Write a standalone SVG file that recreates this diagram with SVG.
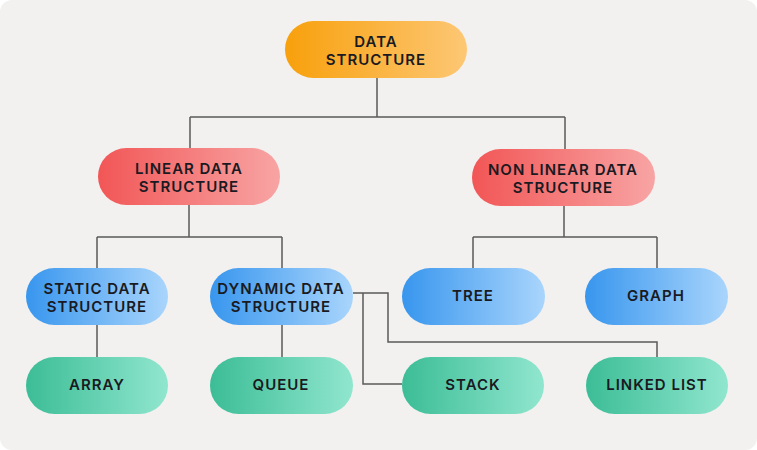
<svg xmlns="http://www.w3.org/2000/svg" width="757" height="450" viewBox="0 0 757 450">
<defs>
<linearGradient id="gO" x1="0" y1="0" x2="1" y2="0"><stop offset="0" stop-color="#f8a00c"/><stop offset="1" stop-color="#fdc774"/></linearGradient>
<linearGradient id="gR" x1="0" y1="0" x2="1" y2="0"><stop offset="0" stop-color="#f25656"/><stop offset="1" stop-color="#f8a4a4"/></linearGradient>
<linearGradient id="gB" x1="0" y1="0" x2="1" y2="0"><stop offset="0" stop-color="#3896ee"/><stop offset="1" stop-color="#a9d5fc"/></linearGradient>
<linearGradient id="gG" x1="0" y1="0" x2="1" y2="0"><stop offset="0" stop-color="#3cbd96"/><stop offset="1" stop-color="#90e6ce"/></linearGradient>
<style>
.t{font-family:Inter,"Liberation Sans",sans-serif;font-weight:600;font-size:15px;fill:#1a1a22;text-anchor:middle;letter-spacing:1px}
.c{fill:none;stroke:#5a5a5a;stroke-width:1.5}
</style>
</defs>
<rect x="0" y="0" width="757" height="450" fill="#ffffff"/>
<rect x="0" y="0" width="757" height="450" rx="12" fill="#f2f1ef"/>
<g id="connectors">
<path class="c" d="M377 78V117M190 117H565M190 117V148M565 117V149"/>
<path class="c" d="M189 205V237M97 237H282M97 237V268M282 237V268"/>
<path class="c" d="M564 206V237M473 237H657M473 237V268M657 237V268"/>
<path class="c" d="M97 325V357M282 325V357"/>
<path class="c" d="M353 293H388V342H657V357M363 293V384H402"/>
</g>
<g id="data-structure"><rect x="285" y="21" width="182" height="57" rx="28.5" fill="url(#gO)"/><text class="t" x="376" y="47">DATA</text><text class="t" x="376" y="65">STRUCTURE</text></g>
<g id="linear"><rect x="98" y="148" width="182" height="57" rx="28.5" fill="url(#gR)"/><text class="t" x="189" y="174">LINEAR DATA</text><text class="t" x="189" y="192">STRUCTURE</text></g>
<g id="nonlinear"><rect x="472" y="149" width="183" height="57" rx="28.5" fill="url(#gR)"/><text class="t" x="563" y="175">NON LINEAR DATA</text><text class="t" x="563" y="193">STRUCTURE</text></g>
<g id="static"><rect x="26" y="268" width="142" height="57" rx="28.5" fill="url(#gB)"/><text class="t" x="97" y="294">STATIC DATA</text><text class="t" x="97" y="312">STRUCTURE</text></g>
<g id="dynamic"><rect x="210" y="268" width="143" height="57" rx="28.5" fill="url(#gB)"/><text class="t" x="281" y="294">DYNAMIC DATA</text><text class="t" x="281" y="312">STRUCTURE</text></g>
<g id="tree"><rect x="402" y="268" width="143" height="57" rx="28.5" fill="url(#gB)"/><text class="t" x="473" y="301">TREE</text></g>
<g id="graph"><rect x="585" y="268" width="143" height="57" rx="28.5" fill="url(#gB)"/><text class="t" x="656" y="301">GRAPH</text></g>
<g id="array"><rect x="26" y="357" width="142" height="57" rx="28.5" fill="url(#gG)"/><text class="t" x="97" y="390">ARRAY</text></g>
<g id="queue"><rect x="210" y="357" width="143" height="57" rx="28.5" fill="url(#gG)"/><text class="t" x="281" y="390">QUEUE</text></g>
<g id="stack"><rect x="402" y="357" width="142" height="57" rx="28.5" fill="url(#gG)"/><text class="t" x="473" y="390">STACK</text></g>
<g id="linked-list"><rect x="586" y="357" width="142" height="57" rx="28.5" fill="url(#gG)"/><text class="t" x="657" y="390">LINKED LIST</text></g>
</svg>
